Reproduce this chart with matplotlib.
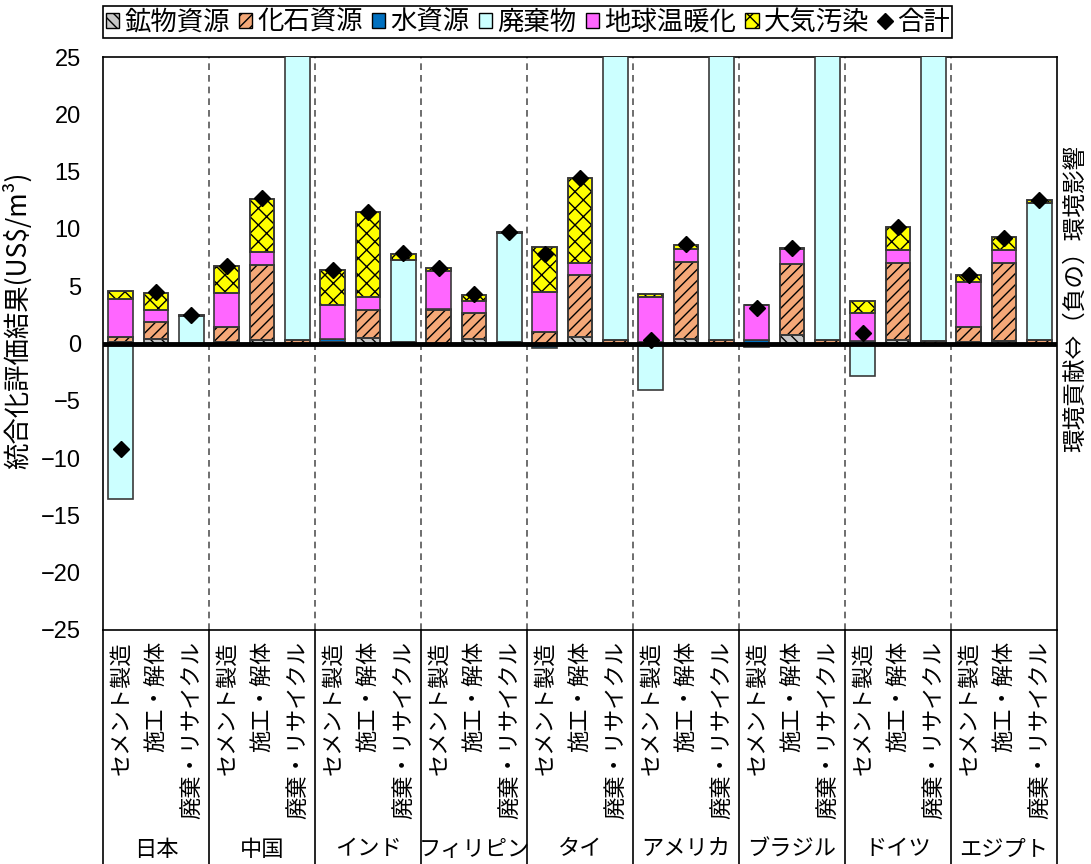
import numpy as np
import matplotlib
matplotlib.use("Agg")
from matplotlib import pyplot as plt
from matplotlib.patches import Patch
from matplotlib.lines import Line2D

plt.rcParams['font.family'] = ['Noto Sans CJK JP', 'DejaVu Sans']
plt.rcParams['hatch.linewidth'] = 1.0

# data: 9 countries x 3 stages
countries = ['日本', '中国', 'インド', 'フィリピン', 'タイ', 'アメリカ', 'ブラジル', 'ドイツ', 'エジプト']
stages = ['セメント製造', '施工・解体', '廃棄・リサイクル']
comp_names = ['鉱物資源', '化石資源', '水資源', '廃棄物', '地球温暖化', '大気汚染']

mineral = [0.1, 0.35, 0.0,  0.1, 0.3, 0.0,  0.0, 0.45, 0.0,  0.0, 0.35, 0.0,  0.0, 0.6, 0.0,
           0.0, 0.35, 0.0,  0.0, 0.7, 0.0,  0.0, 0.3, 0.0,  0.1, 0.2, 0.0]
fossil = [0.5, 1.5, 0.0,  1.3, 6.55, 0.3,  0.1, 2.5, 0.1,  2.9, 2.35, 0.1,  1.0, 5.35, 0.3,
          0.0, 6.75, 0.3,  0.0, 6.25, 0.3,  0.0, 6.7, 0.2,  1.3, 6.85, 0.3]
water = [0.0, 0.0, 0.0,  0.0, 0.0, 0.0,  0.3, 0.0, 0.0,  0.1, 0.0, 0.0,  -0.4, 0.0, 0.0,
         0.1, 0.0, 0.0,  0.3, 0.0, 0.0,  0.2, 0.0, 0.0,  0.0, 0.0, 0.0]
waste = [-13.6, 0.0, 2.4,  0.0, 0.0, 40.0,  0.0, 0.0, 7.2,  0.0, 0.0, 9.55,  0.0, 0.0, 40.0,
         -4.1, 0.0, 40.0,  -0.3, 0.0, 40.0,  -2.85, 0.0, 40.0,  0.0, 0.0, 12.0]
warming = [3.3, 1.05, 0.0,  3.05, 1.15, 0.0,  2.95, 1.1, 0.0,  3.3, 1.05, 0.0,  3.5, 1.05, 0.0,
           4.0, 1.15, 0.0,  3.1, 1.3, 0.0,  2.5, 1.15, 0.0,  3.95, 1.1, 0.0]
air = [0.65, 1.55, 0.1,  2.3, 4.6, 0.0,  3.1, 7.4, 0.55,  0.3, 0.5, 0.05,  3.9, 7.4, 0.0,
       0.25, 0.35, 0.0,  0.0, 0.05, 0.0,  1.0, 2.0, 0.0,  0.65, 1.1, 0.25]
total = [-9.2, 4.5, 2.5,  6.8, 12.7, 40.0,  6.4, 11.5, 7.9,  6.6, 4.3, 9.7,  7.8, 14.4, 40.0,
         0.3, 8.7, 40.0,  3.1, 8.3, 40.0,  0.9, 10.2, 40.0,  6.0, 9.2, 12.5]

components = [mineral, fossil, water, waste, warming, air]
colors = ['#C8C8C8', '#F4A878', '#0070C0', '#CCFFFF', '#FF66FF', '#FFFF00']
hatches = ['\\\\\\', '///', None, None, None, 'xx']

fig = plt.figure(figsize=(10.91, 8.64), dpi=100)
ax = fig.add_axes([103/1091, (864-630)/864, (1057-103)/1091, (630-57)/864])

x = np.arange(len(total))
w = 0.7
pos_base = np.zeros(len(x))
neg_base = np.zeros(len(x))
for vals, c, h in zip(components, colors, hatches):
    v = np.array(vals)
    bottom = np.where(v >= 0, pos_base, neg_base)
    ax.bar(x, v, w, bottom=bottom, color=c, edgecolor='#3a3a3a', linewidth=1.2, zorder=3)
    if h:
        # hatch drawn separately so it stays black
        ax.bar(x, v, w, bottom=bottom, color='none', edgecolor='black', hatch=h,
               linewidth=0, zorder=3.5)
        ax.bar(x, v, w, bottom=bottom, color='none', edgecolor='#3a3a3a', linewidth=1.2, zorder=3.6)
    pos_base += np.where(v >= 0, v, 0)
    neg_base += np.where(v < 0, v, 0)

ax.plot(x, total, ls='none', marker='D', ms=8, color='black', zorder=5)

ax.axhline(0, color='black', lw=3.5, zorder=4)
for b in np.arange(2.5, 26, 3):
    ax.axvline(b, color='#555555', ls=(0, (4, 3)), lw=1.2, zorder=1)

ax.set_xlim(-0.5, len(x) - 0.5)
ax.set_ylim(-25, 25)
ax.set_yticks(range(-25, 26, 5))
ax.set_yticklabels([str(v).replace('-', '\u2212') for v in range(-25, 26, 5)],
                   family=['Liberation Sans', 'DejaVu Sans'], fontsize=17)
ax.tick_params(axis='y', direction='in', length=0, pad=16)

ax.set_xticks(x)
ax.set_xticklabels(stages * len(countries), rotation=90, fontsize=16)
ax.tick_params(axis='x', length=0, pad=8)

for s in ax.spines.values():
    s.set_linewidth(1.2)

ax.set_ylabel('統合化評価結果(US\\$/m³)', fontsize=19)
ax.yaxis.set_label_coords(-0.074, 0.54)

# category table lines and country names
for b in np.arange(-0.5, len(x), 3):
    ax.add_line(Line2D([b, b], [0, -0.42], transform=ax.get_xaxis_transform(),
                       color='black', lw=1.2, clip_on=False))
for i, name in enumerate(countries):
    ax.text(i * 3 + 1, -(849 - 630) / 573, name, transform=ax.get_xaxis_transform(),
            ha='center', va='center', fontsize=16)

fig.text(1075/1091, 1 - 298/864, '環境貢献⇔（負の）環境影響', rotation=90,
         ha='center', va='center', fontsize=17)

handles = []
for name, c, h in zip(comp_names, colors, hatches):
    handles.append(Patch(facecolor=c, edgecolor='black', hatch=h, label=name))
handles.append(Line2D([], [], ls='none', marker='D', ms=8, color='black', label='合計'))
leg = fig.legend(handles=handles, loc='upper left', bbox_to_anchor=(103/1091, 1 - 6/864),
                 ncol=7, fontsize=19, handlelength=0.5, handleheight=0.5, handletextpad=0.2,
                 columnspacing=0.35, borderpad=0.1, borderaxespad=0, fancybox=False,
                 framealpha=1)
leg.get_frame().set_edgecolor('black')
leg.get_frame().set_linewidth(1.2)

fig.savefig('out.png', dpi=100)
